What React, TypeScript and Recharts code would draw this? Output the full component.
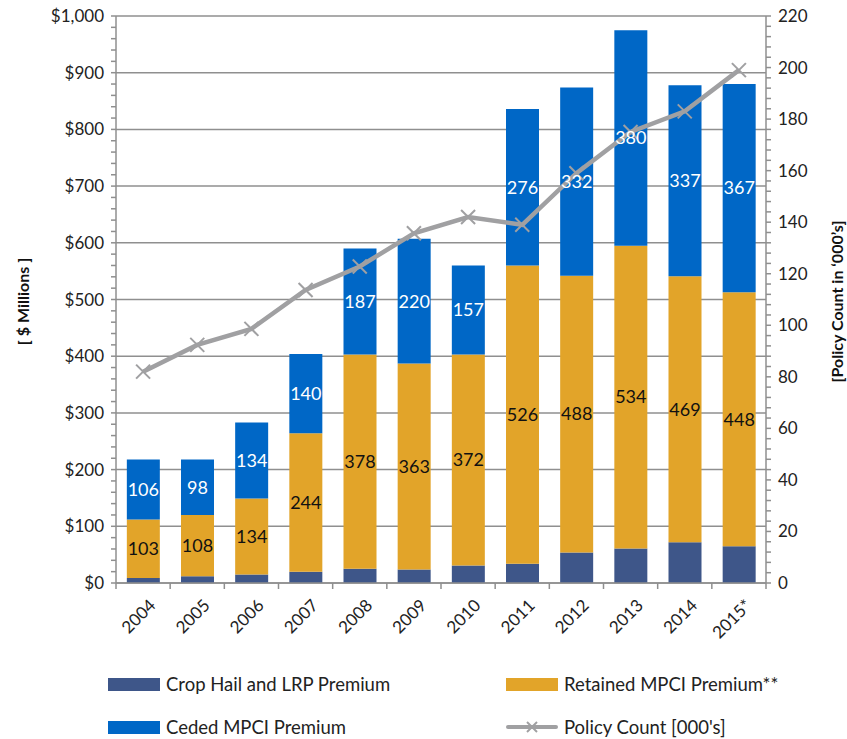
import React from 'react';
import { ComposedChart, Bar, Line, XAxis, YAxis, CartesianGrid, LabelList } from 'recharts';

const years = ['2004', '2005', '2006', '2007', '2008', '2009', '2010', '2011', '2012', '2013', '2014', '2015*'];
const cropHail = [9, 12, 15, 20, 25, 24, 31, 34, 54, 61, 72, 65];
const retained = [103, 108, 134, 244, 378, 363, 372, 526, 488, 534, 469, 448];
const ceded = [106, 98, 134, 140, 187, 220, 157, 276, 332, 380, 337, 367];
const policyCount = [82, 92.4, 98.6, 113.7, 122.8, 135.7, 142, 139, 159, 175, 183, 199];

const leftMajor = [0, 100, 200, 300, 400, 500, 600, 700, 800, 900, 1000];
const rightMajor = [0, 20, 40, 60, 80, 100, 120, 140, 160, 180, 200, 220];

// minor ticks: 5 per major step on both axes
const leftTicks: number[] = [];
for (let v = 0; v <= 1000; v += 20) leftTicks.push(v);
const rightTicks: number[] = [];
for (let v = 0; v <= 220; v += 4) rightTicks.push(v);

const data = years.map((year, i) => ({
  year,
  cropHail: cropHail[i],
  retained: retained[i],
  ceded: ceded[i],
  policy: policyCount[i],
}));

const FONT = 'Lato, "Open Sans", sans-serif';
const GRID = '#8f8f8f';
const C_HAIL = '#3e5689';
const C_RET = '#e2a429';
const C_CED = '#0067c6';
const C_LINE = '#a0a0a2';

const W = 847;
const H = 739;
const PLOT_L = 116;
const PLOT_R = 766;
const BAND = (PLOT_R - PLOT_L) / years.length;

const fmtMoney = (v: number) => '$' + v.toLocaleString('en-US');

function LeftTick(props: any) {
  const { x, y, payload } = props;
  if (!leftMajor.includes(payload.value)) return null;
  return (
    <text x={x} y={y} dy={6} textAnchor="end" fontSize={17} fill="#222" fontFamily={FONT}>
      {fmtMoney(payload.value)}
    </text>
  );
}

function RightTick(props: any) {
  const { x, y, payload } = props;
  if (!rightMajor.includes(payload.value)) return null;
  return (
    <text x={x} y={y} dy={6} textAnchor="start" fontSize={17} fill="#222" fontFamily={FONT}>
      {payload.value}
    </text>
  );
}

function YearTick(props: any) {
  const { x, y, payload, index } = props;
  const left = x - BAND / 2;
  return (
    <g>
      <line x1={left} x2={left} y1={y - 8} y2={y - 2} stroke={GRID} strokeWidth={1.5} />
      {index === years.length - 1 && (
        <line x1={x + BAND / 2} x2={x + BAND / 2} y1={y - 8} y2={y - 2} stroke={GRID} strokeWidth={1.5} />
      )}
      <text
        x={x + 4}
        y={y + 6}
        textAnchor="end"
        dominantBaseline="hanging"
        transform={`rotate(-45, ${x + 4}, ${y + 6})`}
        fontSize={17}
        fill="#222"
        fontFamily={FONT}
      >
        {payload.value}
      </text>
    </g>
  );
}

function XDot(props: any) {
  const { cx, cy } = props;
  if (cx == null || cy == null) return null;
  const s = 7;
  return (
    <g stroke={C_LINE} strokeWidth={2}>
      <line x1={cx - s} y1={cy - s} x2={cx + s} y2={cy + s} />
      <line x1={cx - s} y1={cy + s} x2={cx + s} y2={cy - s} />
    </g>
  );
}

function AxisTitle({ viewBox, value, cx }: any) {
  const cy = viewBox.y + viewBox.height / 2 + 2;
  return (
    <text
      x={cx}
      y={cy}
      transform={`rotate(-90, ${cx}, ${cy})`}
      textAnchor="middle"
      dominantBaseline="central"
      fontSize={16}
      fontWeight={700}
      fill="#111"
      fontFamily={FONT}
    >
      {value}
    </text>
  );
}

function LegendItem({ x, y, label, kind, color }: { x: number; y: number; label: string; kind: 'bar' | 'line'; color: string }) {
  return (
    <div style={{ position: 'absolute', left: x, top: y - 12, height: 24, display: 'flex', alignItems: 'center' }}>
      {kind === 'bar' ? (
        <div style={{ width: 52, height: 13, background: color }} />
      ) : (
        <svg width={52} height={16}>
          <line x1={2} y1={8} x2={50} y2={8} stroke={color} strokeWidth={4} strokeLinecap="round" />
          <line x1={21} y1={3} x2={31} y2={13} stroke={color} strokeWidth={2} />
          <line x1={21} y1={13} x2={31} y2={3} stroke={color} strokeWidth={2} />
        </svg>
      )}
      <span style={{ marginLeft: 6, fontSize: 18.5, color: '#222', fontFamily: FONT, whiteSpace: 'nowrap' }}>{label}</span>
    </div>
  );
}

export default function App() {
  return (
    <div style={{ position: 'absolute', left: 0, top: 0, width: W, height: H, background: '#fff', overflow: 'hidden' }}>
      <ComposedChart
        width={W}
        height={H}
        data={data}
        margin={{ top: 16, right: 0, left: 0, bottom: 86 }}
        barCategoryGap="20%"
      >
        <CartesianGrid
          yAxisId="left"
          vertical={false}
          horizontalValues={leftMajor}
          stroke={GRID}
          strokeWidth={1.5}
        />
        <XAxis
          dataKey="year"
          height={70}
          interval={0}
          tickLine={false}
          axisLine={{ stroke: GRID, strokeWidth: 1.5 }}
          tick={<YearTick />}
        />
        <YAxis
          yAxisId="left"
          width={PLOT_L}
          domain={[0, 1000]}
          ticks={leftTicks}
          interval={0}
          tick={<LeftTick />}
          tickSize={5}
          tickMargin={7}
          tickLine={{ stroke: GRID, strokeWidth: 1.5 }}
          axisLine={{ stroke: GRID, strokeWidth: 1.5 }}
          label={(p: any) => <AxisTitle {...p} value="[ $ Millions ]" cx={22} />}
        />
        <YAxis
          yAxisId="right"
          orientation="right"
          width={W - PLOT_R}
          domain={[0, 220]}
          ticks={rightTicks}
          interval={0}
          tick={<RightTick />}
          tickSize={5}
          tickMargin={7}
          tickLine={{ stroke: GRID, strokeWidth: 1.5 }}
          axisLine={{ stroke: GRID, strokeWidth: 1.5 }}
          label={(p: any) => <AxisTitle {...p} value={'[Policy Count in \u2018000\u2019s]'} cx={836} />}
        />
        <Bar yAxisId="left" dataKey="cropHail" stackId="a" fill={C_HAIL} isAnimationActive={false} />
        <Bar yAxisId="left" dataKey="retained" stackId="a" fill={C_RET} isAnimationActive={false}>
          <LabelList dataKey="retained" position="center" fill="#111" fontSize={18} fontFamily={FONT} />
        </Bar>
        <Bar yAxisId="left" dataKey="ceded" stackId="a" fill={C_CED} isAnimationActive={false}>
          <LabelList dataKey="ceded" position="center" fill="#fff" fontSize={18} fontFamily={FONT} />
        </Bar>
        <Line
          yAxisId="right"
          dataKey="policy"
          stroke={C_LINE}
          strokeWidth={4.5}
          dot={<XDot />}
          activeDot={false}
          isAnimationActive={false}
        />
      </ComposedChart>
      <LegendItem x={108} y={684} label="Crop Hail and LRP Premium" kind="bar" color={C_HAIL} />
      <LegendItem x={506} y={684} label="Retained MPCI Premium**" kind="bar" color={C_RET} />
      <LegendItem x={108} y={727} label="Ceded MPCI Premium" kind="bar" color={C_CED} />
      <LegendItem x={506} y={727} label="Policy Count [000's]" kind="line" color={C_LINE} />
    </div>
  );
}
